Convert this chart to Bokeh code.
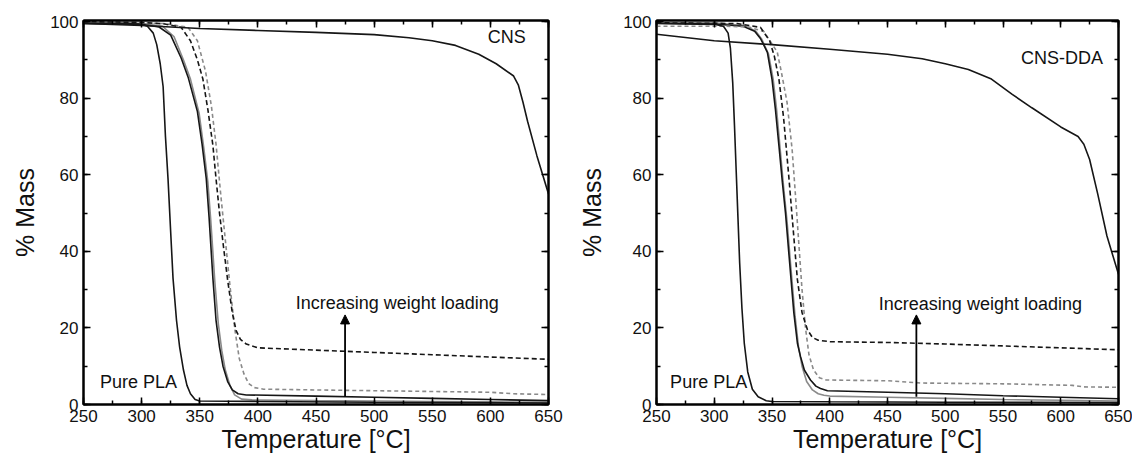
from bokeh.plotting import figure
from bokeh.layouts import row
from bokeh.models import (Arrow, NormalHead, Label, LinearAxis,
                          SingleIntervalTicker, Range1d, CustomJSTickFormatter)
from bokeh.embed import file_html
from bokeh.resources import INLINE

FONT = "Liberation Sans"
BLACK = "#161616"
GRAY = "#8a8a8a"

# ---------------- left panel (CNS) ----------------
pla_L_T = [250, 290, 300, 305, 310, 313, 316, 318.5, 320.5, 322.7, 325, 327, 330, 332.7, 336, 339, 342, 346, 350, 400, 500, 650]
pla_L_M = [99.6, 99.5, 99.3, 98.8, 97, 94, 89, 83, 70, 59, 45, 33, 22, 15, 9, 5, 2.8, 1.3, 0.9, 0.8, 0.6, 0.4]

solA_L_T = [250, 300, 315, 325, 334, 340, 348, 352, 355.6, 358, 361.3, 364, 367, 370, 374, 378, 383, 390, 450, 500, 550, 600, 650]
solA_L_M = [99.5, 99.3, 98.6, 96.5, 90.5, 85.5, 76.5, 68, 59, 49, 33, 22, 15, 10, 6, 3.8, 2.8, 2.5, 2.2, 1.9, 1.6, 1.3, 1.0]

solB_L_T = [250, 300, 318, 328, 336, 342, 349.5, 353.5, 357, 359.5, 363, 366, 369, 372, 376, 380, 386, 395, 450, 500, 550, 600, 650]
solB_L_M = [99.8, 99.6, 98.8, 96, 90, 85, 76, 67, 58, 48, 32, 21, 14, 9, 5, 2.5, 1.4, 1.2, 1.0, 0.9, 0.8, 0.7, 0.6]

dashU_L_T = [250, 300, 320, 334, 342, 348, 352.7, 357, 361.3, 364, 367, 370.5, 374, 378, 381.3, 385, 390, 400, 450, 500, 550, 600, 650]
dashU_L_M = [100, 99.8, 99.4, 98.5, 95, 90, 85, 77, 67.7, 59, 50, 41, 32.5, 24, 19.3, 17, 15.8, 14.8, 14.2, 13.6, 13.0, 12.4, 11.8]

dashL_L_T = [250, 320, 340, 348, 355, 360, 364, 368, 372, 376, 380, 384, 388, 392, 397, 405, 450, 500, 550, 600, 620, 650]
dashL_L_M = [100, 99.5, 98.5, 95, 87, 78, 68, 55, 43, 31, 20, 12, 8, 5.5, 4.4, 4.0, 3.8, 3.6, 3.4, 3.2, 2.8, 2.6]

cns_T = [250, 300, 350, 400, 450, 500, 530, 550, 570, 590, 605, 620, 624, 628, 632, 640, 650]
cns_M = [99.5, 99.0, 98.2, 97.7, 97.2, 96.6, 95.8, 95.0, 93.8, 91.5, 89.0, 85.8, 83.5, 79, 74, 65, 55]

# ---------------- right panel (CNS-DDA) ----------------
pla_R_T = [250, 300, 308, 312, 314, 316, 317.5, 319, 320.5, 322, 324, 326, 329, 333, 338, 345, 350, 400, 500, 650]
pla_R_M = [99.5, 99.3, 98.8, 97, 93, 84, 73, 61, 49, 37, 25, 16, 8.5, 4, 2, 1.0, 0.8, 0.7, 0.6, 0.5]

solA_R_T = [250, 300, 325, 335, 340, 346, 350, 353, 356, 359, 361.7, 365, 368.9, 372, 374.7, 378, 383.3, 388, 392, 398, 450, 500, 550, 600, 650]
solA_R_M = [99.6, 99.4, 98.8, 97.5, 95.6, 92, 85, 77, 67.6, 58, 50, 38, 24, 16, 12.5, 9, 6.4, 4.8, 4.2, 3.6, 3.2, 2.8, 2.3, 1.9, 1.5]

solB_R_T = [250, 300, 326, 336, 341, 347, 351, 354, 357, 360, 363, 366, 370, 373, 376, 380, 385, 390, 395, 400, 450, 500, 550, 600, 650]
solB_R_M = [99.9, 99.7, 99, 97.5, 95.5, 91.5, 85, 77, 67, 57, 48, 37, 23, 15, 10, 6, 3.8, 2.8, 2.4, 2.2, 1.9, 1.6, 1.3, 1.1, 0.9]

dashU_R_T = [250, 320, 340, 348, 352, 356, 360, 364.7, 368, 372, 376, 380.7, 385, 390, 400, 450, 500, 550, 600, 650]
dashU_R_M = [99.7, 99.5, 98.5, 95, 91, 85, 75, 59, 47, 32.6, 24, 19.5, 17.5, 16.8, 16.4, 16.2, 15.8, 15.3, 14.8, 14.3]

dashL_R_T = [250, 310, 330, 343, 354.5, 358, 363, 367.4, 370, 373, 376, 379, 382, 386, 391, 397, 450, 480, 550, 610, 620, 650]
dashL_R_M = [98.8, 98.8, 98.6, 97.4, 92.1, 87, 79, 66.7, 56, 43, 30, 20, 13, 9, 7, 6.4, 6.2, 5.6, 5.4, 5.0, 4.6, 4.5]

dda_T = [250, 300, 350, 400, 450, 480, 500, 520, 540, 558, 575, 600, 615, 620, 625, 632, 640, 650]
dda_M = [96.7, 95.0, 94.0, 92.8, 91.5, 90.3, 89.0, 87.5, 85.0, 81, 77.5, 72.5, 70, 68, 64, 55, 44, 34]

x_ticks_interval = 50
y_ticks_interval = 20


def style_axis(ax, show_labels):
    ax.axis_line_width = 2
    ax.axis_line_color = "black"
    ax.major_tick_in = 7
    ax.major_tick_out = 0
    ax.minor_tick_in = 4
    ax.minor_tick_out = 0
    ax.major_tick_line_width = 1.5
    ax.minor_tick_line_width = 1.5
    ax.major_tick_line_color = "black"
    ax.minor_tick_line_color = "black"
    if show_labels:
        ax.major_label_text_font = FONT
        ax.major_label_text_font_size = "17px"
        ax.major_label_text_color = "#111111"
        ax.axis_label_text_font = FONT
        ax.axis_label_text_font_size = "25px"
        ax.axis_label_text_font_style = "normal"
        ax.axis_label_text_color = "#111111"
    else:
        ax.formatter = CustomJSTickFormatter(code="return ''")
        ax.major_label_standoff = 0
        ax.axis_label = None


def make_panel(curves, width, border_left, border_right, ylabel_standoff, texts, arrow_x):
    p = figure(width=width, height=455, output_backend="svg", toolbar_location=None,
               x_range=Range1d(250, 650), y_range=Range1d(0, 100.3),
               min_border_left=border_left, min_border_right=border_right,
               min_border_top=20, min_border_bottom=20,
               x_axis_label="Temperature [°C]", y_axis_label="% Mass")
    p.grid.visible = False
    p.outline_line_color = "black"
    p.outline_line_width = 2
    p.background_fill_color = "white"
    p.border_fill_color = "white"

    p.xaxis.ticker = SingleIntervalTicker(interval=x_ticks_interval, num_minor_ticks=2)
    p.yaxis.ticker = SingleIntervalTicker(interval=y_ticks_interval, num_minor_ticks=2)
    style_axis(p.xaxis[0], True)
    style_axis(p.yaxis[0], True)
    p.xaxis.major_label_standoff = 5
    p.xaxis.axis_label_standoff = 0
    p.yaxis.major_label_standoff = 5
    p.yaxis.axis_label_standoff = ylabel_standoff

    top = LinearAxis(ticker=SingleIntervalTicker(interval=x_ticks_interval, num_minor_ticks=2))
    right = LinearAxis(ticker=SingleIntervalTicker(interval=y_ticks_interval, num_minor_ticks=2))
    style_axis(top, False)
    style_axis(right, False)
    p.add_layout(top, "above")
    p.add_layout(right, "right")

    for T, M, color, dash in curves:
        p.line(T, M, line_color=color, line_width=1.6, line_dash=dash)

    for (tx, ty, txt, align) in texts:
        p.add_layout(Label(x=tx, y=ty, text=txt, text_font=FONT, text_font_size="18px",
                           text_align=align, text_baseline="middle", text_color="#111111"))

    p.add_layout(Arrow(end=NormalHead(size=9, fill_color="black", line_color="black"),
                       x_start=arrow_x, y_start=2.0, x_end=arrow_x, y_end=23.4,
                       line_width=1.8, line_color="black"))
    return p


left_curves = [
    (solB_L_T, solB_L_M, GRAY, "solid"),
    (solA_L_T, solA_L_M, BLACK, "solid"),
    (dashL_L_T, dashL_L_M, GRAY, "4 3"),
    (dashU_L_T, dashU_L_M, BLACK, "5 3"),
    (pla_L_T, pla_L_M, BLACK, "solid"),
    (cns_T, cns_M, BLACK, "solid"),
]
right_curves = [
    (solB_R_T, solB_R_M, GRAY, "solid"),
    (solA_R_T, solA_R_M, BLACK, "solid"),
    (dashL_R_T, dashL_R_M, GRAY, "4 3"),
    (dashU_R_T, dashU_R_M, BLACK, "5 3"),
    (pla_R_T, pla_R_M, BLACK, "solid"),
    (dda_T, dda_M, BLACK, "solid"),
]

p1 = make_panel(left_curves, 566, 83, 18, 8,
                [(614, 96.1, "CNS", "center"),
                 (330.5, 6.0, "Pure PLA", "right"),
                 (432.5, 26.5, "Increasing weight loading", "left")], 475)
p2 = make_panel(right_curves, 566, 90, 14, 14,
                [(601, 90.5, "CNS-DDA", "center"),
                 (328.5, 6.0, "Pure PLA", "right"),
                 (442.5, 26.3, "Increasing weight loading", "left")], 475)

layout = row(p1, p2, spacing=0)
open("out.html", "w").write(file_html(layout, INLINE))
